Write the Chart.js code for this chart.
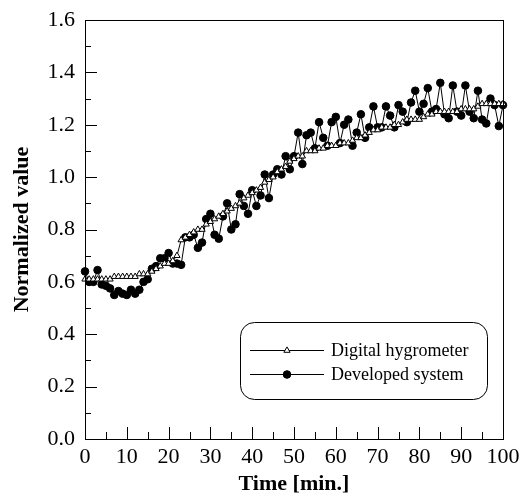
<!DOCTYPE html>
<html>
<head>
<meta charset="utf-8">
<script src="https://cdn.jsdelivr.net/npm/chart.js@4.4.0/dist/chart.umd.min.js"></script>
<style>
  html, body { margin: 0; padding: 0; background: #fff; }
  #wrap { width: 521px; height: 498px; }
</style>
</head>
<body>
<div id="wrap"><canvas id="chart"></canvas></div>
<script>
// time axis, one sample per minute
const minutes = [
  0, 1, 2, 3, 4, 5, 6, 7, 8, 9,
  10, 11, 12, 13, 14, 15, 16, 17, 18, 19,
  20, 21, 22, 23, 24, 25, 26, 27, 28, 29,
  30, 31, 32, 33, 34, 35, 36, 37, 38, 39,
  40, 41, 42, 43, 44, 45, 46, 47, 48, 49,
  50, 51, 52, 53, 54, 55, 56, 57, 58, 59,
  60, 61, 62, 63, 64, 65, 66, 67, 68, 69,
  70, 71, 72, 73, 74, 75, 76, 77, 78, 79,
  80, 81, 82, 83, 84, 85, 86, 87, 88, 89,
  90, 91, 92, 93, 94, 95, 96, 97, 98, 99,
  100
];

const hygrometer = [
  0.61, 0.61, 0.61, 0.61, 0.61, 0.61, 0.61, 0.62, 0.62, 0.62,
  0.62, 0.62, 0.62, 0.63, 0.63, 0.63, 0.64, 0.65, 0.66, 0.67,
  0.67, 0.68, 0.70, 0.76, 0.77, 0.78, 0.79, 0.80, 0.80, 0.82,
  0.83, 0.84, 0.85, 0.86, 0.87, 0.88, 0.89, 0.90, 0.92, 0.93,
  0.94, 0.95, 0.96, 0.98, 0.99, 1.00, 1.02, 1.03, 1.04, 1.06,
  1.07, 1.08, 1.08, 1.10, 1.10, 1.10, 1.11, 1.11, 1.12, 1.12,
  1.12, 1.13, 1.13, 1.13, 1.14, 1.15, 1.15, 1.16, 1.17, 1.18,
  1.18, 1.19, 1.19, 1.19, 1.20, 1.20, 1.21, 1.22, 1.22, 1.22,
  1.22, 1.23, 1.24, 1.24, 1.25, 1.25, 1.25, 1.25, 1.25, 1.25,
  1.26, 1.26, 1.26, 1.26, 1.27, 1.28, 1.28, 1.28, 1.28, 1.28,
  1.28
];

const developed = [
  0.64, 0.60, 0.60, 0.645, 0.59, 0.585, 0.575, 0.55, 0.565, 0.555,
  0.55, 0.57, 0.555, 0.57, 0.60, 0.61, 0.65, 0.66, 0.69, 0.69,
  0.71, 0.67, 0.67, 0.665, 0.77, 0.77, 0.78, 0.73, 0.75, 0.84,
  0.86, 0.78, 0.765, 0.85, 0.90, 0.80, 0.82, 0.935, 0.89, 0.86,
  0.95, 0.89, 0.93, 1.01, 0.92, 1.01, 1.03, 1.01, 1.08, 1.03,
  1.08, 1.17, 1.05, 1.16, 1.17, 1.11, 1.21, 1.15, 1.12, 1.21,
  1.23, 1.13, 1.20, 1.22, 1.12, 1.17, 1.24, 1.15, 1.19, 1.27,
  1.19, 1.19, 1.27, 1.235, 1.19, 1.275, 1.25, 1.21, 1.285, 1.33,
  1.25, 1.28, 1.34, 1.25, 1.26, 1.36, 1.24, 1.225, 1.35, 1.25,
  1.235, 1.35, 1.25, 1.225, 1.33, 1.22, 1.205, 1.30, 1.275, 1.195,
  1.275
];

const xTicks = [0, 10, 20, 30, 40, 50, 60, 70, 80, 90, 100];
const yTicks = [0.0, 0.2, 0.4, 0.6, 0.8, 1.0, 1.2, 1.4, 1.6];
const seriesNames = ["Digital hygrometer", "Developed system"];

const serif = "'Liberation Serif', 'Times New Roman', serif";

// inward tick marks + frame, like the original plot
const frameTicks = {
  id: "frameTicks",
  afterDraw(chart) {
    const { ctx, chartArea: a, scales: { x, y } } = chart;
    ctx.save();
    ctx.strokeStyle = "#000";
    ctx.lineWidth = 1;
    ctx.beginPath();
    for (let i = 0; i < xTicks.length; i++) {
      const px = Math.round(x.getPixelForValue(xTicks[i])) + 0.5;
      ctx.moveTo(px, a.bottom);
      ctx.lineTo(px, a.bottom - 12);
      if (i < xTicks.length - 1) {
        const mx = Math.round(x.getPixelForValue((xTicks[i] + xTicks[i + 1]) / 2)) + 0.5;
        ctx.moveTo(mx, a.bottom);
        ctx.lineTo(mx, a.bottom - 7);
      }
    }
    for (let i = 0; i < yTicks.length; i++) {
      const py = Math.round(y.getPixelForValue(yTicks[i])) + 0.5;
      ctx.moveTo(a.left, py);
      ctx.lineTo(a.left + 12, py);
      if (i < yTicks.length - 1) {
        const my = Math.round(y.getPixelForValue((yTicks[i] + yTicks[i + 1]) / 2)) + 0.5;
        ctx.moveTo(a.left, my);
        ctx.lineTo(a.left + 6, my);
      }
    }
    ctx.stroke();
    ctx.strokeRect(Math.round(a.left) + 0.5, Math.round(a.top) + 0.5,
      Math.round(a.right - a.left), Math.round(a.bottom - a.top));
    ctx.restore();
  }
};

// rounded legend box with line-through-marker samples
const boxLegend = {
  id: "boxLegend",
  afterDraw(chart) {
    const { ctx } = chart;
    const bx = 240, by = 322, bw = 247, bh = 77;
    ctx.save();
    ctx.strokeStyle = "#000";
    ctx.lineWidth = 1;
    ctx.beginPath();
    ctx.roundRect(bx + 0.5, by + 0.5, bw, bh, 14);
    ctx.stroke();

    const rows = [350, 374];
    chart.data.datasets.forEach((ds, i) => {
      const ly = rows[i] + 0.5;
      ctx.beginPath();
      ctx.moveTo(250, ly);
      ctx.lineTo(324, ly);
      ctx.strokeStyle = "#000";
      ctx.lineWidth = 1;
      ctx.stroke();
      ctx.fillStyle = ds.pointBackgroundColor;
      ctx.strokeStyle = ds.pointBorderColor;
      ctx.lineWidth = ds.pointBorderWidth;
      Chart.helpers.drawPoint(ctx, {
        pointStyle: ds.pointStyle, radius: ds.pointRadius,
        rotation: 0, borderWidth: ds.pointBorderWidth
      }, 287, ly);
      ctx.fillStyle = "#000";
      ctx.font = "18px " + serif;
      ctx.textBaseline = "middle";
      ctx.textAlign = "left";
      ctx.fillText(ds.label, 331, rows[i] + 1);
    });
    ctx.restore();
  }
};

new Chart(document.getElementById("chart"), {
  type: "line",
  data: {
    labels: minutes,
    datasets: [
      {
        label: seriesNames[0],
        data: minutes.map((m, i) => ({ x: m, y: hygrometer[i] })),
        borderColor: "#000",
        borderWidth: 1,
        pointStyle: "triangle",
        pointRadius: 3.6,
        pointBackgroundColor: "#fff",
        pointBorderColor: "#000",
        pointBorderWidth: 1,
        tension: 0,
        clip: 10,
        order: 0
      },
      {
        label: seriesNames[1],
        data: minutes.map((m, i) => ({ x: m, y: developed[i] })),
        borderColor: "#000",
        borderWidth: 1,
        pointStyle: "circle",
        pointRadius: 3.8,
        pointBackgroundColor: "#000",
        pointBorderColor: "#000",
        pointBorderWidth: 1,
        tension: 0,
        clip: 10,
        order: 1
      }
    ]
  },
  options: {
    responsive: true,
    maintainAspectRatio: false,
    animation: false,
    layout: { padding: { left: 0, right: 18, top: 20, bottom: 0 } },
    plugins: {
      legend: { display: false },
      tooltip: { enabled: false }
    },
    scales: {
      x: {
        type: "linear",
        min: 0,
        max: 100,
        afterBuildTicks: (s) => { s.ticks = xTicks.map(v => ({ value: v })); },
        afterFit: (s) => { s.height = 59; s.paddingLeft = 0; s.paddingRight = 0; },
        grid: { display: false, drawTicks: false },
        border: { display: false },
        ticks: {
          color: "#000",
          padding: 5,
          maxRotation: 0,
          font: { family: serif, size: 22 }
        },
        title: {
          display: true,
          text: "Time [min.]",
          color: "#000",
          padding: { top: 0, bottom: 0 },
          font: { family: serif, size: 22, weight: "bold" }
        }
      },
      y: {
        min: 0,
        max: 1.6,
        afterBuildTicks: (s) => { s.ticks = yTicks.map(v => ({ value: v })); },
        afterFit: (s) => { s.width = 85; s.paddingTop = 0; s.paddingBottom = 0; },
        grid: { display: false, drawTicks: false },
        border: { display: false },
        ticks: {
          color: "#000",
          padding: 10,
          callback: (v) => Number(v).toFixed(1),
          font: { family: serif, size: 22 }
        },
        title: {
          display: true,
          text: "Normalized value",
          color: "#000",
          padding: { top: 9, bottom: 0 },
          font: { family: serif, size: 22, weight: "bold" }
        }
      }
    }
  },
  plugins: [frameTicks, boxLegend]
});
</script>
</body>
</html>
